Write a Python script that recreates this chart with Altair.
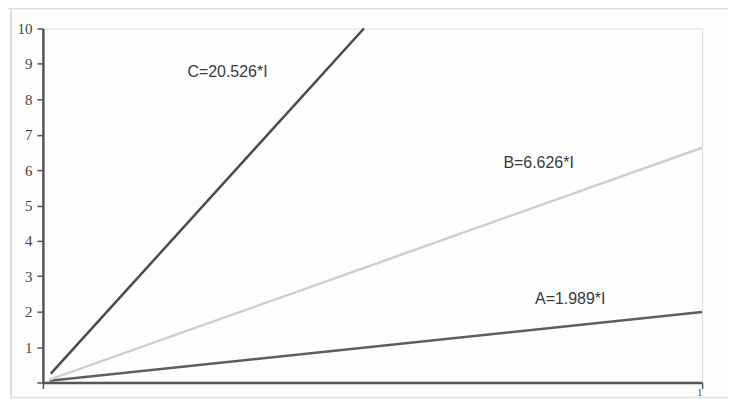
import altair as alt
import pandas as pd

# Line data
series = ["A", "B", "C"]
x_start = [0.01, 0.01, 0.012]
y_start = [0.05, 0.08, 0.25]
x_end = [1.0, 1.0, 0.487]
y_end = [1.99, 6.63, 10.0]
colors = ["#5e5e5e", "#cfcfcf", "#4a4a4a"]
widths = [2.5, 2.5, 1.6]

label_text = ["A=1.989*I", "B=6.626*I", "C=20.526*I"]
label_x = [0.80, 0.752, 0.28]
label_y = [2.37, 6.2, 8.76]

y_ticks = list(range(0, 11))
x_ticks = [0, 1]

rows = []
for s, xs, ys, xe, ye in zip(series, x_start, y_start, x_end, y_end):
    rows.append({"s": s, "x": xs, "y": ys, "o": 0})
    rows.append({"s": s, "x": xe, "y": ye, "o": 1})
lines_df = pd.DataFrame(rows)
labels_df = pd.DataFrame({"t": label_text, "x": label_x, "y": label_y})

W, H = 661, 355

xscale = alt.Scale(domain=[0, 1], nice=False)
yscale = alt.Scale(domain=[0, 10], nice=False)

x_axis = alt.Axis(
    values=x_ticks, labelExpr="datum.value == 1 ? '1' : ''", grid=False,
    domainColor="#555", domainWidth=2.5, tickColor="#555", tickWidth=1.5,
    tickSize=6, labelFont="Liberation Serif", labelFontSize=11,
    labelColor="#555", labelPadding=-2, title=None, labelOverlap=False)
y_axis = alt.Axis(
    values=y_ticks, labelExpr="datum.value == 0 ? '' : datum.label",
    grid=False, domainColor="#555", domainWidth=2.5, tickColor="#555",
    tickWidth=1.5, tickSize=6, labelFont="Liberation Serif", labelFontSize=15,
    labelColor="#444", labelPadding=5, title=None, labelOverlap=False,
    tickCount=11)

base_frame = alt.Chart(pd.DataFrame({"a": [0]}))
frame_top = base_frame.mark_rule(color="#dedede", strokeWidth=2).encode(
    x=alt.value(-36), x2=alt.value(W + 40), y=alt.value(-20))
frame_left = base_frame.mark_rule(color="#dedede", strokeWidth=2).encode(
    x=alt.value(-32), y=alt.value(-20), y2=alt.value(H + 16))
frame_bottom = base_frame.mark_rule(color="#e6e6e6", strokeWidth=2).encode(
    x=alt.value(-32), x2=alt.value(W + 40), y=alt.value(H + 15))

lines = alt.Chart(lines_df).mark_line().encode(
    x=alt.X("x:Q", scale=xscale, axis=x_axis),
    y=alt.Y("y:Q", scale=yscale, axis=y_axis),
    order="o:Q",
    color=alt.Color("s:N", scale=alt.Scale(domain=series, range=colors), legend=None),
    strokeWidth=alt.StrokeWidth("s:N", scale=alt.Scale(domain=series, range=widths), legend=None),
)

labels = alt.Chart(labels_df).mark_text(
    font="Liberation Sans", fontSize=16, color="#3a3a3a", align="center", baseline="middle"
).encode(
    x=alt.X("x:Q", scale=xscale, axis=x_axis),
    y=alt.Y("y:Q", scale=yscale, axis=y_axis),
    text="t:N",
)

chart = alt.layer(frame_top, frame_left, frame_bottom, lines, labels).properties(
    width=W, height=H,
    autosize=alt.AutoSizeParams(type="none"),
    padding={"left": 35, "top": 20, "right": 26, "bottom": 16},
).configure_view(stroke=None).configure(background="#fdfdfd")

chart.save("out.html", embed_options={"renderer": "svg", "actions": False})
